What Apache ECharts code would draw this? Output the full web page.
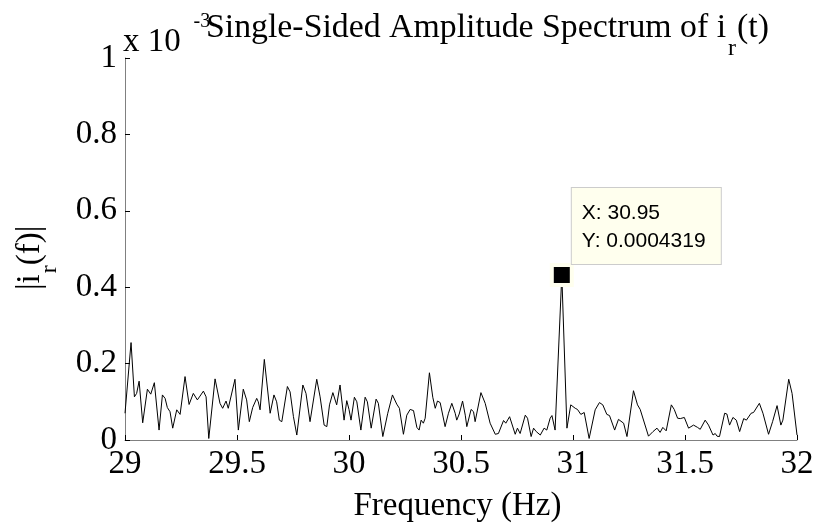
<!DOCTYPE html>
<html>
<head>
<meta charset="utf-8">
<script src="https://cdn.jsdelivr.net/npm/echarts@6/dist/echarts.min.js"></script>
<style>
html,body{margin:0;padding:0;background:#fff;}
#c{width:820px;height:529px;}
</style>
</head>
<body>
<div id="c"></div>
<script>
// ---- data (amplitude in units of 1e-3) ----
const freq = [
29.000,29.027,29.042,29.052,29.063,29.079,29.100,29.115,29.131,29.138,
29.152,29.167,29.179,29.189,29.201,29.213,29.220,29.231,29.246,29.268,
29.286,29.305,29.323,29.335,29.350,29.362,29.374,29.402,29.424,29.436,
29.451,29.461,29.491,29.506,29.528,29.543,29.555,29.570,29.588,29.595,
29.603,29.622,29.648,29.655,29.665,29.677,29.689,29.700,29.725,29.737,
29.752,29.767,29.794,29.808,29.826,29.856,29.871,29.889,29.901,29.913,
29.928,29.945,29.960,29.978,29.990,30.000,30.009,30.024,30.035,30.053,
30.072,30.082,30.099,30.121,30.131,30.151,30.173,30.194,30.213,30.225,
30.243,30.258,30.273,30.288,30.303,30.313,30.322,30.332,30.340,30.359,
30.374,30.385,30.395,30.407,30.429,30.444,30.459,30.474,30.481,30.492,
30.507,30.519,30.526,30.545,30.556,30.563,30.589,30.608,30.630,30.653,
30.667,30.690,30.700,30.717,30.724,30.742,30.752,30.764,30.787,30.797,
30.813,30.824,30.836,30.854,30.871,30.883,30.898,30.906,30.920,30.950,
30.973,30.990,31.010,31.020,31.035,31.050,31.072,31.099,31.118,31.133,
31.151,31.163,31.186,31.203,31.226,31.241,31.270,31.288,31.300,31.337,
31.357,31.375,31.389,31.401,31.416,31.439,31.452,31.467,31.479,31.497,
31.516,31.538,31.556,31.568,31.590,31.605,31.625,31.635,31.643,31.654,
31.677,31.687,31.699,31.714,31.729,31.744,31.762,31.774,31.795,31.806,
31.832,31.848,31.873,31.891,31.911,31.928,31.937,31.963,31.978,32.000
];
const amp = [
0.070,0.255,0.113,0.122,0.154,0.045,0.133,0.120,0.150,0.148,
0.026,0.118,0.109,0.085,0.074,0.031,0.035,0.079,0.067,0.166,
0.093,0.122,0.105,0.115,0.128,0.113,0.004,0.160,0.096,0.083,
0.102,0.083,0.159,0.026,0.133,0.105,0.048,0.085,0.109,0.100,
0.079,0.211,0.070,0.065,0.118,0.100,0.052,0.048,0.140,0.126,
0.061,0.013,0.144,0.122,0.048,0.159,0.113,0.039,0.035,0.092,
0.124,0.092,0.144,0.052,0.103,0.080,0.052,0.112,0.100,0.026,
0.112,0.100,0.031,0.107,0.096,0.009,0.070,0.118,0.094,0.083,
0.015,0.065,0.080,0.077,0.033,0.026,0.052,0.044,0.057,0.176,
0.112,0.083,0.102,0.098,0.035,0.070,0.096,0.070,0.052,0.068,
0.102,0.065,0.035,0.080,0.074,0.048,0.124,0.096,0.044,0.015,
0.017,0.051,0.044,0.061,0.059,0.015,0.031,0.017,0.065,0.057,
0.009,0.031,0.022,0.013,0.031,0.026,0.057,0.064,0.026,0.4319,
0.031,0.092,0.083,0.080,0.067,0.072,0.004,0.079,0.098,0.092,
0.067,0.064,0.026,0.054,0.044,0.009,0.129,0.092,0.080,0.010,
0.022,0.031,0.020,0.033,0.024,0.092,0.080,0.057,0.056,0.059,
0.031,0.039,0.033,0.028,0.052,0.039,0.013,0.017,0.010,0.009,
0.070,0.068,0.039,0.059,0.052,0.022,0.056,0.052,0.070,0.072,
0.096,0.070,0.015,0.048,0.090,0.039,0.052,0.159,0.122,0.013
];
const xRange = [29, 32];
const xStep = 0.5;
const yRange = [0, 1];
const yStep = 0.2;
const tipX = [30.95];
const tipY = [0.4319];           // in units of 1e-3
const yScaleText = ['x 10', '-3'];
const titleParts = ['Single-Sided Amplitude Spectrum of i', 'r', '(t)'];
const yNameParts = ['|i', 'r', '(f)|'];
const xName = 'Frequency (Hz)';

// ---- helpers ----
const SERIF = '"Liberation Serif", "Times New Roman", serif';
const SANS = '"Liberation Sans", Arial, sans-serif';
const mctx = document.createElement('canvas').getContext('2d');
function tw(s, size) { mctx.font = size + 'px ' + SERIF; return mctx.measureText(s).width; }
function txt(s, x, y, size) {
  return {
    type: 'text', x: x, y: y, silent: true,
    style: { text: s, font: size + 'px ' + SERIF, fill: '#000',
      align: 'left', verticalAlign: 'middle', textAlign: 'left', textVerticalAlign: 'middle' }
  };
}
const MID = 0.3375; // middle-to-baseline ratio for the serif font

const lineData = freq.map((f, i) => [f, amp[i]]);

// title pieces
const TS = 33.8;
const tX = 206, tBase = 39.3, subBase = 57;
const w0 = tw(titleParts[0], TS), w1 = tw(titleParts[1], 24);
const graphics = [
  txt(yScaleText[0], 123, 53 - MID * 33, 33),
  txt(yScaleText[1], 193.5, 28.5 - MID * 20, 20),
  txt(titleParts[0], tX, tBase - MID * TS, TS),
  txt(titleParts[1], tX + w0 + 2, subBase - MID * 24, 24),
  txt(titleParts[2], tX + w0 + w1 + 3, tBase - MID * TS, TS)
];
// rotated y-axis name
const yw0 = tw(yNameParts[0], 33), yw1 = tw(yNameParts[1], 24);
graphics.push({
  type: 'group', x: 41.3, y: 290, rotation: Math.PI / 2, silent: true,
  children: [
    txt(yNameParts[0], 0, -MID * 33, 33),
    txt(yNameParts[1], yw0 + 1, 17 - MID * 24, 24),
    txt(yNameParts[2], yw0 + yw1 + 1, -MID * 33, 33)
  ]
});

const chart = echarts.init(document.getElementById('c'), null, { renderer: 'canvas' });
chart.setOption({
  animation: false,
  backgroundColor: '#fff',
  grid: { left: 125, right: 23, top: 58, bottom: 89, containLabel: false },
  xAxis: {
    type: 'value', min: xRange[0], max: xRange[1], interval: xStep,
    name: xName, nameLocation: 'middle', nameGap: 50,
    nameTextStyle: { fontFamily: SERIF, fontSize: 33, color: '#000', padding: [0, 7, 0, 0] },
    axisLine: { show: true, onZero: false, lineStyle: { color: '#808080', width: 1 } },
    axisTick: { show: true, inside: true, length: 5, lineStyle: { color: '#000', width: 1 } },
    axisLabel: { margin: 8, fontFamily: SERIF, fontSize: 33, color: '#000' },
    splitLine: { show: false }
  },
  yAxis: {
    type: 'value', min: yRange[0], max: yRange[1], interval: yStep,
    axisLine: { show: true, onZero: false, lineStyle: { color: '#808080', width: 1 } },
    axisTick: { show: true, inside: true, length: 5, lineStyle: { color: '#000', width: 1 } },
    axisLabel: { margin: 8, fontFamily: SERIF, fontSize: 33, color: '#000' },
    splitLine: { show: false }
  },
  graphic: graphics,
  series: [{
    type: 'line',
    data: lineData,
    showSymbol: false,
    symbol: 'none',
    lineStyle: { color: '#000', width: 1 },
    emphasis: { disabled: true },
    markPoint: {
      silent: true,
      symbol: 'rect',
      symbolSize: 20,
      itemStyle: { color: '#000', borderColor: '#FFFFEE', borderWidth: 4 },
      label: {
        show: true,
        position: [22, 1],
        align: 'left',
        verticalAlign: 'bottom',
        formatter: () => 'X: ' + tipX[0] + '\nY: ' + (tipY[0] * 1e-3).toPrecision(4),
        fontFamily: SANS,
        fontSize: 21,
        lineHeight: 28,
        color: '#000',
        backgroundColor: '#FFFFEE',
        borderColor: '#CCCCCC',
        borderWidth: 1,
        padding: [11, 10, 9, 10],
        width: 129
      },
      data: [{ coord: [tipX[0], tipY[0]] }]
    }
  }]
});
</script>
</body>
</html>
